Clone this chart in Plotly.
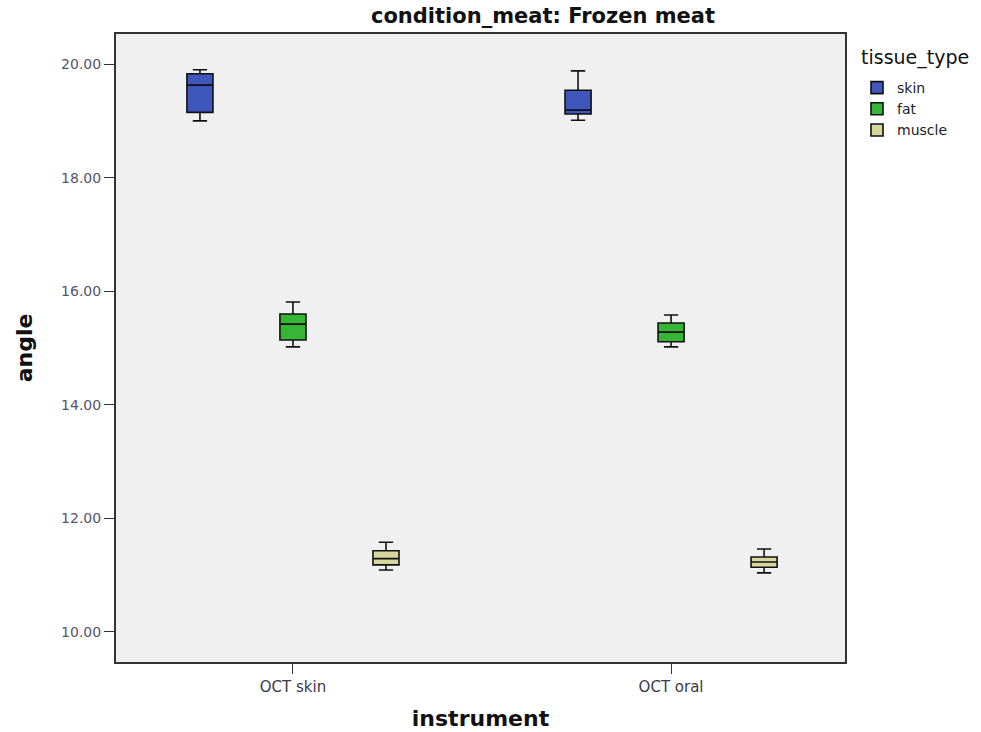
import plotly.graph_objects as go

# Instruments on the x axis and tissue types as grouped boxes
instruments = ["OCT skin", "OCT oral"]
tissues = ["skin", "fat", "muscle"]
colors = {"skin": "#3F56BC", "fat": "#36B536", "muscle": "#D8D69C"}

# Five-number summaries of angle, per tissue, ordered as instruments
lower = {"skin": [19.00, 19.01], "fat": [15.02, 15.02], "muscle": [11.09, 11.04]}
q1 = {"skin": [19.15, 19.12], "fat": [15.14, 15.11], "muscle": [11.18, 11.14]}
median = {"skin": [19.63, 19.19], "fat": [15.42, 15.28], "muscle": [11.29, 11.23]}
q3 = {"skin": [19.83, 19.54], "fat": [15.60, 15.44], "muscle": [11.43, 11.32]}
upper = {"skin": [19.90, 19.88], "fat": [15.81, 15.58], "muscle": [11.58, 11.46]}

y_ticks = [10, 12, 14, 16, 18, 20]

fig = go.Figure()
for t in tissues:
    fig.add_trace(go.Box(
        name=t,
        x=instruments,
        lowerfence=lower[t],
        q1=q1[t],
        median=median[t],
        q3=q3[t],
        upperfence=upper[t],
        fillcolor=colors[t],
        line=dict(color="#111111", width=1.6),
        whiskerwidth=0.55,
        boxpoints=False,
        hoverinfo="y",
    ))

font_family = "DejaVu Sans, Verdana, sans-serif"

# Plot area in pixels: x 116..845, y 34..662
fig.update_layout(
    width=981,
    height=732,
    boxmode="group",
    boxgap=0.262,
    boxgroupgap=0.72,
    paper_bgcolor="white",
    plot_bgcolor="#F0F0F0",
    margin=dict(l=116, r=136, t=34, b=70),
    font=dict(family=font_family, color="#333333"),
    title=dict(
        text="<b>condition_meat: Frozen meat</b>",
        x=543 / 981,
        xanchor="center",
        y=1 - 16 / 732,
        yanchor="middle",
        font=dict(size=21, color="#111111"),
    ),
    xaxis=dict(
        type="category",
        range=[-0.468, 1.46],
        showline=True,
        linecolor="#333333",
        linewidth=2,
        mirror=True,
        ticks="outside",
        ticklen=10,
        tickcolor="#333333",
        tickfont=dict(size=15, color="#3a3a4a"),
        showgrid=False,
        automargin=False,
        title=dict(text="<b>instrument</b>", font=dict(size=22, color="#111111"), standoff=16),
    ),
    yaxis=dict(
        range=[9.47, 20.53],
        tickvals=y_ticks,
        tickformat=".2f",
        showline=True,
        linecolor="#333333",
        linewidth=2,
        mirror=True,
        ticks="outside",
        ticklen=10,
        tickcolor="#333333",
        tickfont=dict(size=14, color="#55556a"),
        showgrid=False,
        zeroline=False,
        automargin=False,
        title=dict(text="<b>angle</b>", font=dict(size=22, color="#111111"), standoff=22),
    ),
    legend=dict(
        x=1 + 12 / 729,
        xanchor="left",
        y=1 - 38 / 628,
        yanchor="top",
        font=dict(size=14, color="#222222"),
        bgcolor="rgba(0,0,0,0)",
        itemwidth=30,
        tracegroupgap=0,
    ),
    showlegend=True,
    annotations=[dict(
        text="tissue_type",
        xref="paper",
        yref="paper",
        x=(859 - 116) / 729,
        xanchor="left",
        y=(662 - 58) / 628,
        yanchor="middle",
        showarrow=False,
        font=dict(size=19, color="#111111"),
    )],
)

fig.write_html("out.html")
